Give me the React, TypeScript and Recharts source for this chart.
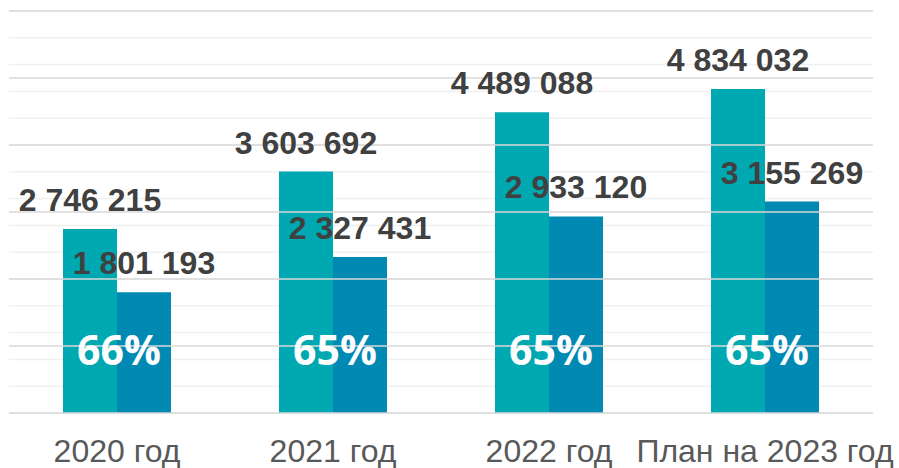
import React from 'react';
import { BarChart, Bar, XAxis, YAxis, CartesianGrid, ReferenceLine, LabelList } from 'recharts';

const years = ['2020 год', '2021 год', '2022 год', 'План на 2023 год'];
const totalValues = [2746215, 3603692, 4489088, 4834032];
const partValues = [1801193, 2327431, 2933120, 3155269];
const shareLabels = ['66%', '65%', '65%', '65%'];

const minorTicks = Array.from({ length: 31 }, (_, i) => i * 200000);
const majorTicks = [1000000, 2000000, 3000000, 4000000, 5000000, 6000000];

const data = years.map((year, i) => ({
    year,
    total: totalValues[i],
    part: partValues[i],
    share: shareLabels[i],
}));

const fmt = (v: number) => String(v).replace(/\B(?=(\d{3})+(?!\d))/g, ' ');

const ValueLabel = (props: any) => {
    const { x, y, width, value } = props;
    return (
        <text
            x={x + width / 2}
            y={y - 18}
            textAnchor="middle"
            fontFamily="'Liberation Sans', Arial, sans-serif"
            fontWeight="bold"
            fontSize={32}
            fill="#404040"
        >
            {fmt(value)}
        </text>
    );
};

const ShareLabel = (props: any) => {
    const { x, y, width, height, value } = props;
    return (
        <text
            x={x + width + 2}
            y={y + height - 48}
            textAnchor="middle"
            fontFamily="'Open Sans', sans-serif"
            fontWeight="bold"
            fontSize={41}
            fill="#ffffff"
        >
            {value}
        </text>
    );
};

const App: React.FC = () => {
    return (
        <div style={{ position: 'absolute', left: 0, top: 0, background: '#fff' }}>
            <BarChart
                width={899}
                height={468}
                data={data}
                margin={{ top: 11, right: 26, bottom: 0, left: 9 }}
                barGap={0}
                barCategoryGap="25%"
            >
                <CartesianGrid vertical={false} stroke="#f0f0f0" strokeWidth={1.5} />
                <YAxis hide domain={[0, 6000000]} ticks={minorTicks} type="number" />
                {majorTicks.map((t) => (
                    <ReferenceLine key={t} y={t} stroke="#d9d9d9" strokeWidth={1.5} />
                ))}
                <XAxis
                    dataKey="year"
                    height={55}
                    interval={0}
                    tickLine={false}
                    tickSize={0}
                    tickMargin={26}
                    axisLine={{ stroke: '#d9d9d9', strokeWidth: 1.5 }}
                    tick={{ fontSize: 32, fill: '#595959', fontFamily: "'Liberation Sans', Arial, sans-serif" }}
                />
                <Bar dataKey="total" fill="#00a8b1" isAnimationActive={false}>
                    <LabelList dataKey="total" content={ValueLabel} />
                    <LabelList dataKey="share" content={ShareLabel} />
                </Bar>
                <Bar dataKey="part" fill="#0089b2" isAnimationActive={false}>
                    <LabelList dataKey="part" content={ValueLabel} />
                </Bar>
            </BarChart>
        </div>
    );
};

export default App;
